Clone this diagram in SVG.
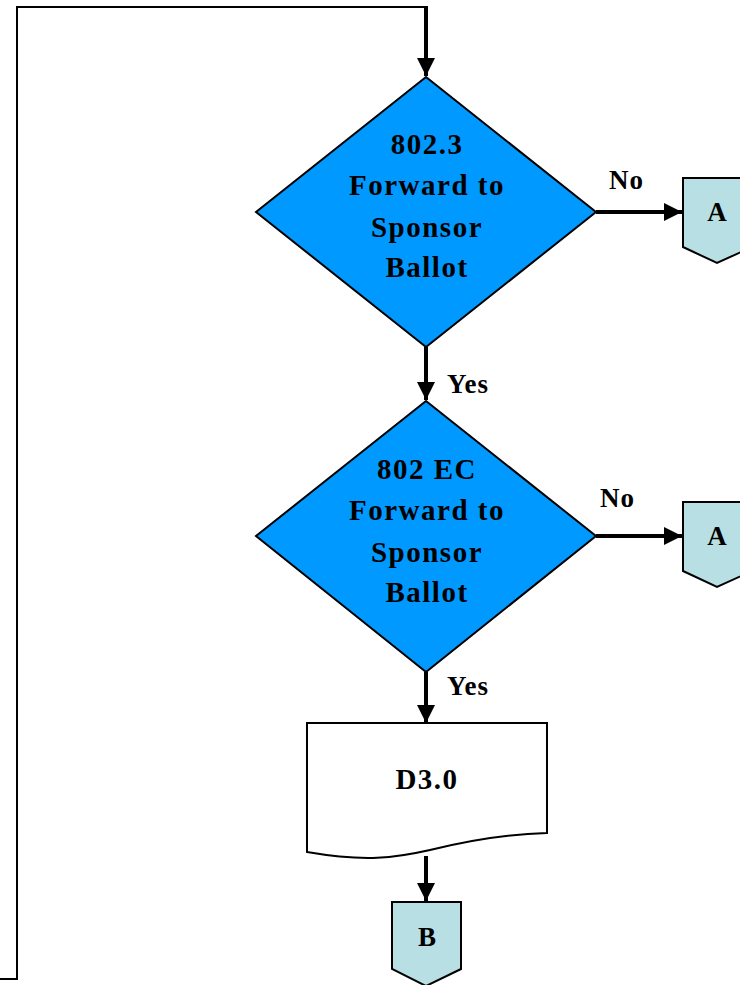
<svg xmlns="http://www.w3.org/2000/svg" width="740" height="985" viewBox="0 0 740 985">
<defs>
<marker id="ah" markerUnits="userSpaceOnUse" markerWidth="20" markerHeight="18" refX="18" refY="9" orient="auto">
<path d="M0,0 L18,9 L0,18 Z" fill="#000"/>
</marker>
<style>
.t{font-family:"Liberation Serif","Times New Roman",serif;font-weight:bold;font-size:29px;fill:#000;text-anchor:middle;letter-spacing:1.5px}
.l{font-family:"Liberation Serif","Times New Roman",serif;font-weight:bold;font-size:27px;fill:#000;letter-spacing:1px}
.c{font-family:"Liberation Serif","Times New Roman",serif;font-weight:bold;font-size:27px;fill:#000;text-anchor:middle}
.dia{fill:#0099FF;stroke:#000;stroke-width:2}
.opc{fill:#B8DFE3;stroke:#000;stroke-width:2}
.arr{fill:none;stroke:#000;stroke-width:4;marker-end:url(#ah)}
.thin{fill:none;stroke:#000;stroke-width:2}
</style>
</defs>
<rect width="740" height="985" fill="#fff"/>
<g id="connectors">
<polyline class="thin" points="0,979 17,979 17,7 426,7"/>
<line class="arr" x1="426" y1="6" x2="426" y2="76"/>
<line class="arr" x1="596" y1="212" x2="682" y2="212"/>
<line class="arr" x1="426" y1="347" x2="426" y2="400"/>
<line class="arr" x1="596" y1="536" x2="682" y2="536"/>
<line class="arr" x1="426" y1="672" x2="426" y2="723"/>
<line class="arr" x1="426" y1="856" x2="426" y2="901"/>
<text class="l" x="609" y="189">No</text>
<text class="l" x="447" y="393">Yes</text>
<text class="l" x="600" y="507">No</text>
<text class="l" x="447" y="695">Yes</text>
</g>
<g id="d1">
<polygon class="dia" points="426,77 596,212 426,347 256,212"/>
<text class="t" x="427" y="154">802.3</text>
<text class="t" x="427" y="195">Forward to</text>
<text class="t" x="427" y="237">Sponsor</text>
<text class="t" x="427" y="277">Ballot</text>
</g>
<g id="a1">
<polygon class="opc" points="683,178 752,178 752,247 717,263 683,247"/>
<text class="c" x="717" y="221">A</text>
</g>
<g id="d2">
<polygon class="dia" points="426,401 596,536 426,672 256,536"/>
<text class="t" x="427" y="479">802 EC</text>
<text class="t" x="427" y="520">Forward to</text>
<text class="t" x="427" y="562">Sponsor</text>
<text class="t" x="427" y="602">Ballot</text>
</g>
<g id="a2">
<polygon class="opc" points="683,502 752,502 752,571 717,587 683,571"/>
<text class="c" x="717" y="545">A</text>
</g>
<g id="doc">
<path d="M307,723 H547 V833 C505,834 470,840 430,850 C395,858 365,862 307,852 Z" fill="#fff" stroke="#000" stroke-width="2"/>
<text class="t" x="427" y="789">D3.0</text>
</g>
<g id="b">
<polygon class="opc" points="392,902 461,902 461,969 426,986 392,969"/>
<text class="c" x="427" y="946">B</text>
</g>
</svg>
